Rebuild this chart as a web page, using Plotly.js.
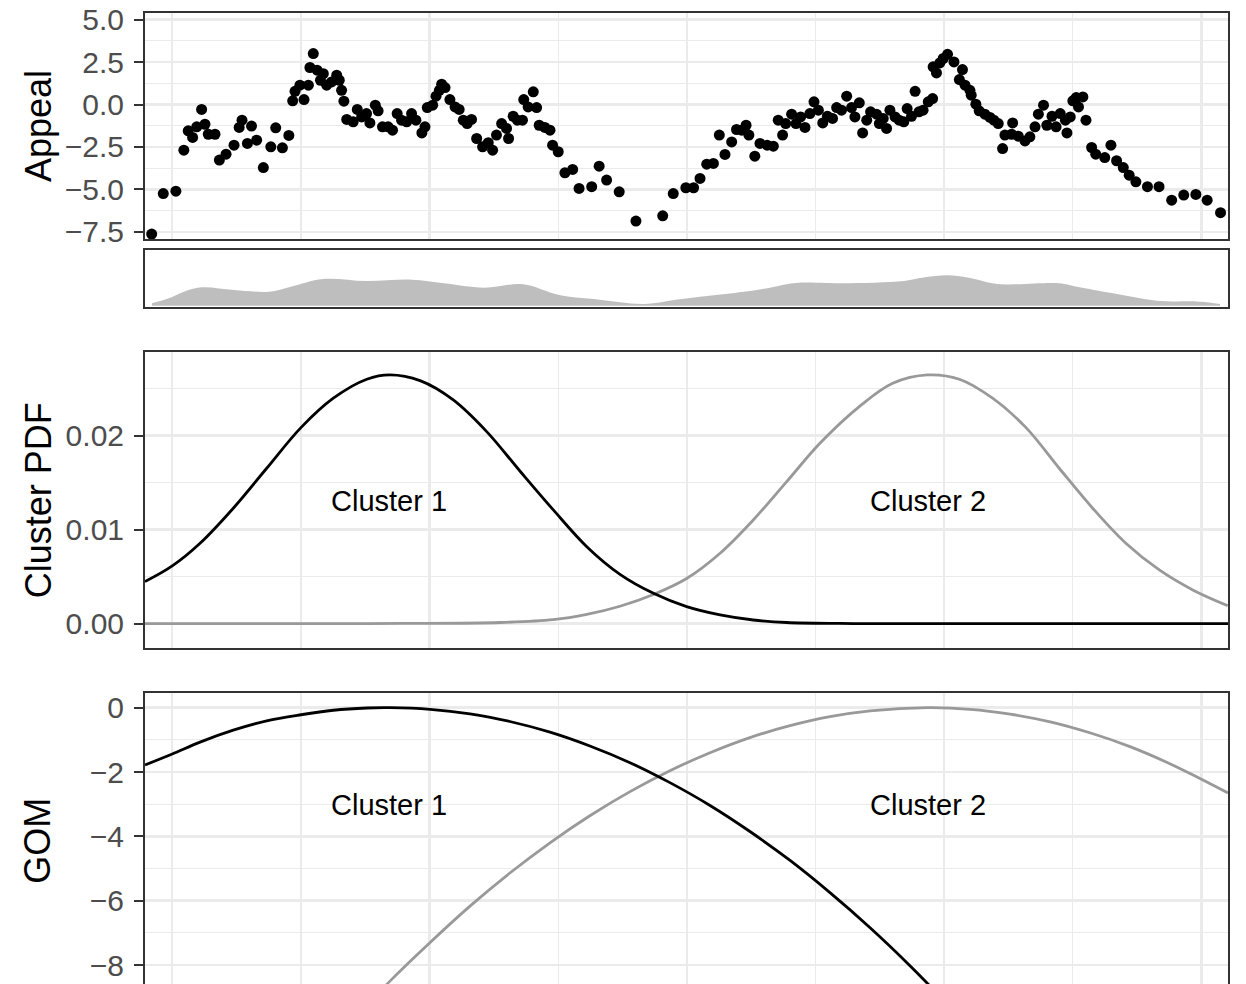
<!DOCTYPE html>
<html>
<head>
<meta charset="utf-8">
<script src="https://cdn.plot.ly/plotly-3.0.1.min.js"></script>
<style>
html, body { margin: 0; padding: 0; overflow: hidden; background: #ffffff; }
#chart { width: 1246px; height: 1000px; }
</style>
</head>
<body>
<div id="chart"></div>
<script>
// ---------- Panel 1: Appeal scatter ----------
const appealX = [
  -8.0, -3.5, 1.4, 4.5, 6.2, 7.9, 9.5, 11.4, 12.7, 14.0, 16.6, 18.3, 20.9, 24.0, 26.0, 27.1, 29.2, 30.8, 32.8, 35.4,
  38.3, 40.2, 42.8, 45.3, 46.8, 47.7, 49.6, 51.2, 52.9, 53.5, 54.8, 56.3, 57.6, 58.7, 60.0, 61.9, 63.9, 64.9, 65.8, 66.7,
  67.8, 70.3, 71.9, 73.6, 75.5, 76.8, 78.9, 80.0, 81.7, 83.9, 85.6, 87.4, 89.1, 91.1,
  93.0, 94.7, 97.0, 98.2, 99.1, 101.2, 102.5, 103.8, 104.7, 106.0, 107.9, 109.9, 111.5, 113.1, 114.6, 116.3, 118.3, 120.6,
  122.8, 124.5, 126.0, 128.0, 129.9, 130.7, 132.5, 134.1, 136.1, 136.6, 138.3, 140.3, 141.6, 142.6, 144.8, 146.8, 147.8,
  150.0, 152.6, 155.6, 158.1, 163.0, 165.9, 168.8, 173.7, 180.2, 190.6, 194.7,
  199.6, 202.6, 205.1, 207.7, 210.3, 212.6, 214.8, 217.4, 219.3, 221.3, 223.0, 224.1, 226.4, 228.4, 231.2, 233.6, 235.5,
  237.2, 238.4, 240.7, 242.4, 244.2, 245.9, 247.8, 249.4, 251.1, 252.8, 254.6, 256.6, 258.2, 260.1, 262.1, 264.0, 265.3,
  267.0, 268.3, 269.9, 271.4, 273.7, 274.8, 276.3, 277.6, 278.9, 280.9, 282.5, 284.3, 285.6, 287.3, 288.7, 290.2, 291.8,
  293.8, 295.5, 295.7, 297.0, 298.3, 299.6, 301.3,
  303.8, 305.9, 307.1, 308.1, 310.0, 310.5, 312.3, 313.6, 315.8, 317.8, 319.3, 321.0, 322.7, 323.6, 326.2, 326.6, 328.8,
  331.4, 333.3, 335.3, 336.6, 338.6, 339.9, 341.9, 343.5, 345.1, 347.1, 347.7, 349.0, 350.0, 351.3, 352.2, 353.9, 355.1,
  357.3, 358.9, 362.4, 364.8, 367.0, 369.6, 371.9, 374.5, 379.0, 383.5, 388.4, 393.1, 397.8, 402.2, 407.4
];
const appealY = [
  -7.63, -5.24, -5.10, -2.69, -1.55, -1.94, -1.31, -0.29, -1.16, -1.75, -1.75, -3.27, -2.92, -2.39, -1.35, -0.92, -2.29, -1.27, -2.10, -3.71,
  -2.49, -1.37, -2.55, -1.82, 0.22, 0.78, 1.14, 0.29, 1.14, 2.18, 3.00, 2.02, 1.43, 1.82, 1.14, 1.33, 1.73, 1.43, 0.84, 0.20,
  -0.88, -1.02, -0.29, -0.73, -0.53, -1.08, -0.04, -0.37, -1.31, -1.31, -1.51, -0.53, -0.92, -1.02,
  -0.53, -0.92, -1.67, -1.31, -0.18, -0.04, 0.49, 0.84, 1.20, 1.00, 0.29, -0.14, -0.29, -0.92, -1.12, -0.88, -2.00, -2.49,
  -2.25, -2.69, -1.80, -1.12, -1.41, -2.00, -0.69, -0.92, -0.92, 0.29, -0.14, 0.75, -0.18, -1.22, -1.35, -1.51, -2.39,
  -2.78, -4.02, -3.82, -4.94, -4.84, -3.63, -4.45, -5.14, -6.86, -6.55, -5.24,
  -4.90, -4.90, -4.35, -3.51, -3.47, -1.80, -2.94, -2.20, -1.47, -1.51, -1.22, -1.80, -3.04, -2.29, -2.39, -2.45, -0.92,
  -1.80, -1.12, -0.57, -1.12, -0.73, -1.35, -0.53, 0.16, -0.33, -1.08, -0.69, -0.82, -0.18, -0.33, 0.49, -0.18, -0.73,
  0.10, -1.67, -0.92, -0.43, -0.57, -1.12, -0.82, -1.41, -0.33, -0.73, -0.92, -1.02, -0.24, -0.69, 0.78, -0.43, -0.33,
  0.16, 0.35, 2.22, 1.86, 2.45, 2.71, 2.96,
  2.51, 1.47, 2.06, 1.14, 0.84, 0.55, 0.02, -0.37, -0.57, -0.76, -0.92, -1.12, -2.59, -1.80, -1.75, -1.08, -1.86,
  -2.14, -1.90, -1.31, -0.57, -0.04, -1.22, -0.69, -1.31, -0.53, -0.92, -1.67, -0.73, 0.22, 0.41, -0.14, 0.45, -0.92,
  -2.53, -2.92, -3.12, -2.39, -3.31, -3.71, -4.16, -4.55, -4.84, -4.84, -5.63, -5.33, -5.29, -5.63, -6.37
];

// ---------- Panel 2: density strip ----------
const densityX = [-7.9, -1.3, 4.5, 11.2, 24.0, 37.6, 46.1, 58.6, 75.3, 93.1, 105.6, 121.1, 136.3, 150.3, 163.9, 183.3,
  197.3, 211.3, 225.3, 232.3, 239.3, 243.6, 260.3, 284.4, 292.5, 301.1, 309.6, 320.9, 344.6, 351.6, 365.6, 382.7, 399.4, 407.2];
const densityY = [0.024, 0.074, 0.140, 0.184, 0.157, 0.140, 0.190, 0.267, 0.247, 0.260, 0.224, 0.180, 0.214, 0.107, 0.067, 0.017,
  0.064, 0.107, 0.150, 0.180, 0.217, 0.230, 0.224, 0.247, 0.284, 0.304, 0.280, 0.217, 0.224, 0.190, 0.124, 0.050, 0.040, 0.017];

// ---------- Panel 3: Cluster PDF ----------
const pdfX1 = [-10.6, 0, 10.8, 23.7, 36.7, 50.0, 62.6, 75.6, 84.6, 96.3, 109.2, 122.2, 135.1, 148.1, 161.1, 174.0,
  187.0, 199.9, 212.9, 225.8, 238.8, 259.5, 282.8, 321.7, 360.6, 410.3];
const pdfY1 = [0.00447, 0.00614, 0.00855, 0.01228, 0.01653, 0.02085, 0.02398, 0.02600, 0.02646, 0.02585, 0.02380, 0.02043,
  0.01624, 0.01210, 0.00819, 0.00525, 0.00323, 0.00181, 0.00093, 0.00039, 0.00012, 0.00002, 0, 0, 0, 0];
const pdfX2 = [-10.6, 50.0, 88.5, 127.4, 148.1, 161.1, 174.0, 187.0, 199.9, 212.9, 225.8, 238.8, 251.7, 267.0, 280.0,
  293.6, 305.9, 318.8, 331.8, 344.7, 357.7, 370.6, 383.6, 396.6, 410.2];
const pdfY2 = [0, 0, 0.00002, 0.00012, 0.00042, 0.00098, 0.00185, 0.00310, 0.00480, 0.00749, 0.01103, 0.01511, 0.01919, 0.02309,
  0.02557, 0.02646, 0.02600, 0.02398, 0.02085, 0.01653, 0.01228, 0.00855, 0.00571, 0.00359, 0.00191];

// ---------- Panel 4: GOM ----------
const gomX1 = [-10.6, 0, 10.8, 23.7, 36.7, 50.0, 62.6, 75.6, 84.6, 100.2, 115.7, 131.2, 146.8, 162.3, 177.9, 193.4,
  209.0, 224.5, 240.1, 255.6, 271.2, 286.7, 302.3];
const gomY1 = [-1.78, -1.44, -1.07, -0.70, -0.41, -0.22, -0.08, -0.01, 0, -0.05, -0.19, -0.43, -0.76, -1.19, -1.71, -2.33,
  -3.04, -3.85, -4.75, -5.75, -6.84, -8.02, -9.30];
const gomX2 = [63.2, 76.8, 84.6, 100.2, 115.7, 131.2, 146.8, 162.3, 177.9, 193.4, 209.0, 224.5, 240.1, 255.6, 271.2,
  293.7, 310.1, 325.6, 341.2, 356.6, 372.2, 387.7, 399.4, 410.3];
const gomY2 = [-10.3, -9.15, -8.5, -7.3, -6.17, -5.14, -4.2, -3.36, -2.61, -1.96, -1.40, -0.93, -0.56, -0.28, -0.10,
  0, -0.05, -0.20, -0.44, -0.78, -1.21, -1.74, -2.2, -2.65];

const clusterNames = ['Cluster 1', 'Cluster 2'];
const panelTitles = ['Appeal', 'Cluster PDF', 'GOM'];

const BLACK = '#000000', GREY = '#999999';
const FONT = 'Liberation Sans, Arial, Helvetica, sans-serif';

const traces = [
  { x: appealX, y: appealY, xaxis: 'x', yaxis: 'y', type: 'scatter', mode: 'markers',
    marker: { color: BLACK, size: 11 }, hoverinfo: 'skip' },
  { x: densityX, y: densityY, xaxis: 'x2', yaxis: 'y2', type: 'scatter', mode: 'lines',
    line: { color: '#BEBEBE', width: 0, shape: 'spline', smoothing: 1 }, fill: 'tozeroy', fillcolor: '#BEBEBE', hoverinfo: 'skip' },
  { x: pdfX2, y: pdfY2, xaxis: 'x3', yaxis: 'y3', type: 'scatter', mode: 'lines',
    line: { color: GREY, width: 2.8, shape: 'spline', smoothing: 1 }, hoverinfo: 'skip' },
  { x: pdfX1, y: pdfY1, xaxis: 'x3', yaxis: 'y3', type: 'scatter', mode: 'lines',
    line: { color: BLACK, width: 2.8, shape: 'spline', smoothing: 1 }, hoverinfo: 'skip' },
  { x: gomX2, y: gomY2, xaxis: 'x4', yaxis: 'y4', type: 'scatter', mode: 'lines',
    line: { color: GREY, width: 2.8, shape: 'spline', smoothing: 1 }, hoverinfo: 'skip' },
  { x: gomX1, y: gomY1, xaxis: 'x4', yaxis: 'y4', type: 'scatter', mode: 'lines',
    line: { color: BLACK, width: 2.8, shape: 'spline', smoothing: 1 }, hoverinfo: 'skip' }
];

const xRange = [-10.6, 410.3];
const GRID = '#EBEBEB';
function xAx(anchor, grid) {
  return {
    anchor: anchor, range: xRange, showline: true, mirror: true, linecolor: '#333333', linewidth: 2,
    showticklabels: false, ticks: '', zeroline: false,
    showgrid: grid, gridcolor: GRID, gridwidth: 2.4, tickmode: 'linear', tick0: 0, dtick: 100,
    minor: { showgrid: grid, gridcolor: GRID, gridwidth: 1.2, tick0: 0, dtick: 50, ticks: '' }
  };
}
function yAx(anchor, domain, range, dtick, mdtick, fmt) {
  return {
    anchor: anchor, domain: domain, range: range, showline: true, mirror: true, linecolor: '#333333', linewidth: 2,
    ticks: 'outside', ticklen: 9, tickwidth: 2, tickcolor: '#333333', ticklabelstandoff: 4,
    tickfont: { family: FONT, size: 30, color: '#4D4D4D' }, tickformat: fmt,
    tickmode: 'linear', tick0: 0, dtick: dtick, zeroline: false,
    showgrid: true, gridcolor: GRID, gridwidth: 2.4,
    minor: { showgrid: true, gridcolor: GRID, gridwidth: 1.2, tick0: 0, dtick: mdtick, ticks: '' }
  };
}

const titleAnn = (text, yref) => ({
  text: text, xref: 'paper', yref: yref, x: -0.0988, y: 0.5, xanchor: 'center', yanchor: 'middle',
  textangle: -90, showarrow: false, font: { family: FONT, size: 36, color: '#000000' }
});
const clusterAnn = (text, x, y, xref, yref) => ({
  text: text, xref: xref, yref: yref, x: x, y: y, xanchor: 'center', yanchor: 'middle',
  showarrow: false, font: { family: FONT, size: 29, color: '#000000' }
});

const layout = {
  width: 1246, height: 1000,
  margin: { l: 145, r: 18, t: 13, b: 11, pad: 0 },
  paper_bgcolor: '#ffffff', plot_bgcolor: '#ffffff',
  showlegend: false,
  xaxis: xAx('y', true),
  xaxis2: xAx('y2', false),
  xaxis3: xAx('y3', true),
  xaxis4: xAx('y4', true),
  yaxis: yAx('x', [0.7684, 1.0], [-7.92, 5.39], 2.5, 1.25, '.1f'),
  yaxis2: {
    anchor: 'x2', domain: [0.6985, 0.7572], range: [-0.016, 0.557], showline: true, mirror: true,
    linecolor: '#333333', linewidth: 2, showticklabels: false, ticks: '', showgrid: false, zeroline: false
  },
  yaxis3: yAx('x3', [0.3491, 0.6524], [-0.00262, 0.02887], 0.01, 0.005, '.2f'),
  yaxis4: yAx('x4', [0, 0.3036], [-8.745, 0.466], 2, 1, 'd'),
  annotations: [
    titleAnn(panelTitles[0], 'y domain'),
    titleAnn(panelTitles[1], 'y3 domain'),
    titleAnn(panelTitles[2], 'y4 domain'),
    clusterAnn(clusterNames[0], 84.1, 0.01305, 'x3', 'y3'),
    clusterAnn(clusterNames[1], 293.7, 0.01305, 'x3', 'y3'),
    clusterAnn(clusterNames[0], 84.1, -3.02, 'x4', 'y4'),
    clusterAnn(clusterNames[1], 293.7, -3.02, 'x4', 'y4')
  ]
};

Plotly.newPlot('chart', traces, layout, { staticPlot: true, displayModeBar: false });
</script>
</body>
</html>
